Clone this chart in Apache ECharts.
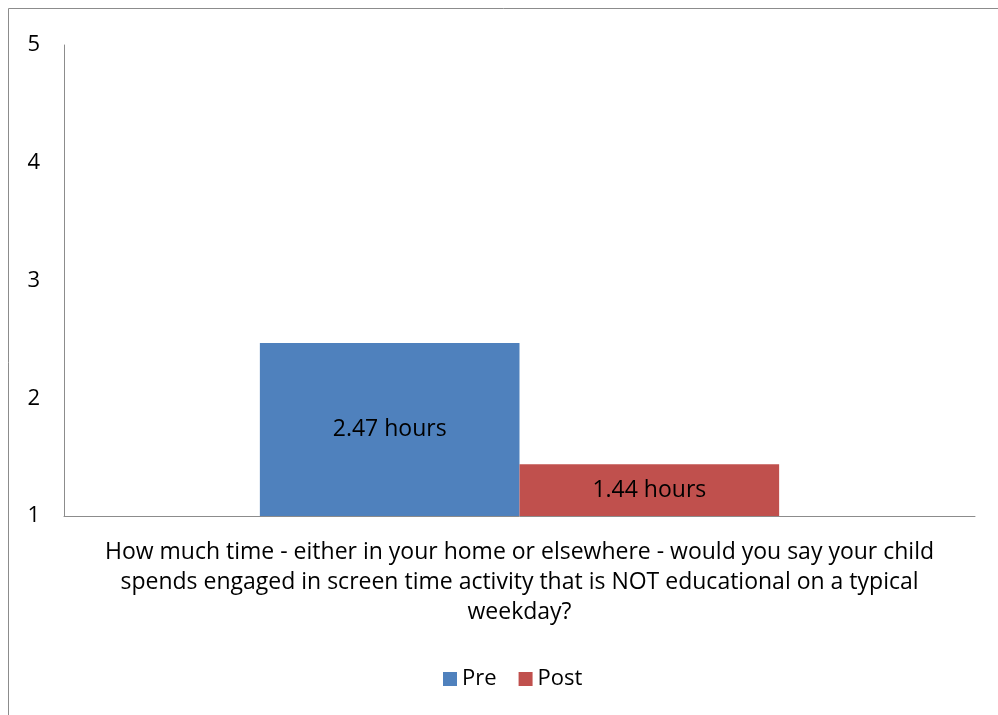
<!DOCTYPE html>
<html>
<head>
<meta charset="utf-8">
<script src="https://cdn.jsdelivr.net/npm/echarts@6/dist/echarts.min.js"></script>
<style>
  html, body { margin: 0; padding: 0; background: #fff; }
  #chart { width: 998px; height: 715px; }
</style>
</head>
<body>
<div id="chart"></div>
<script>
// data
const categories = ['How much time - either in your home or elsewhere - would you say your child\nspends engaged in screen time activity that is NOT educational on a typical\nweekday?'];
const preValues = [2.47];
const postValues = [1.44];
const yTicks = [1, 5, 1]; // min, max, interval

const font = '"Open Sans", sans-serif';

const myChart = echarts.init(document.getElementById('chart'));

const hoursLabel = {
  show: true,
  position: 'inside',
  color: '#000',
  fontFamily: font,
  fontSize: 23,
  formatter: p => p.value.toFixed(2) + ' hours',
};

myChart.setOption({
  animation: false,
  graphic: [
    {
      type: 'rect',
      shape: { x: 8.5, y: 8.5, width: 1010, height: 730 },
      style: { fill: 'none', stroke: '#8c8c8c', lineWidth: 1 },
      silent: true,
    },
  ],
  grid: { left: 64, right: 23, top: 45, bottom: 199 },
  legend: {
    bottom: 20,
    left: 438,
    itemWidth: 14,
    itemHeight: 14,
    itemGap: 22,
    icon: 'rect',
    textStyle: { color: '#000', fontFamily: font, fontSize: 22 },
    data: ['Pre', 'Post'],
  },
  xAxis: {
    type: 'category',
    data: categories,
    axisLine: { show: true, lineStyle: { color: '#8c8c8c', width: 1 } },
    axisTick: { show: false },
    axisLabel: {
      color: '#000',
      fontFamily: font,
      fontSize: 23,
      lineHeight: 30,
      margin: 21,
      align: 'center',
    },
  },
  yAxis: {
    type: 'value',
    min: yTicks[0],
    max: yTicks[1],
    interval: yTicks[2],
    splitLine: { show: false },
    axisLine: { show: true, lineStyle: { color: '#8c8c8c', width: 1 } },
    axisTick: { show: false },
    axisLabel: {
      color: '#000',
      fontFamily: font,
      fontSize: 22,
      margin: 24,
    },
  },
  series: [
    {
      name: 'Pre',
      type: 'bar',
      data: preValues,
      itemStyle: { color: '#4f81bd' },
      barGap: '0%',
      barCategoryGap: '43%',
      label: hoursLabel,
    },
    {
      name: 'Post',
      type: 'bar',
      data: postValues,
      itemStyle: { color: '#c0504d' },
      label: hoursLabel,
    },
  ],
});
</script>
</body>
</html>
